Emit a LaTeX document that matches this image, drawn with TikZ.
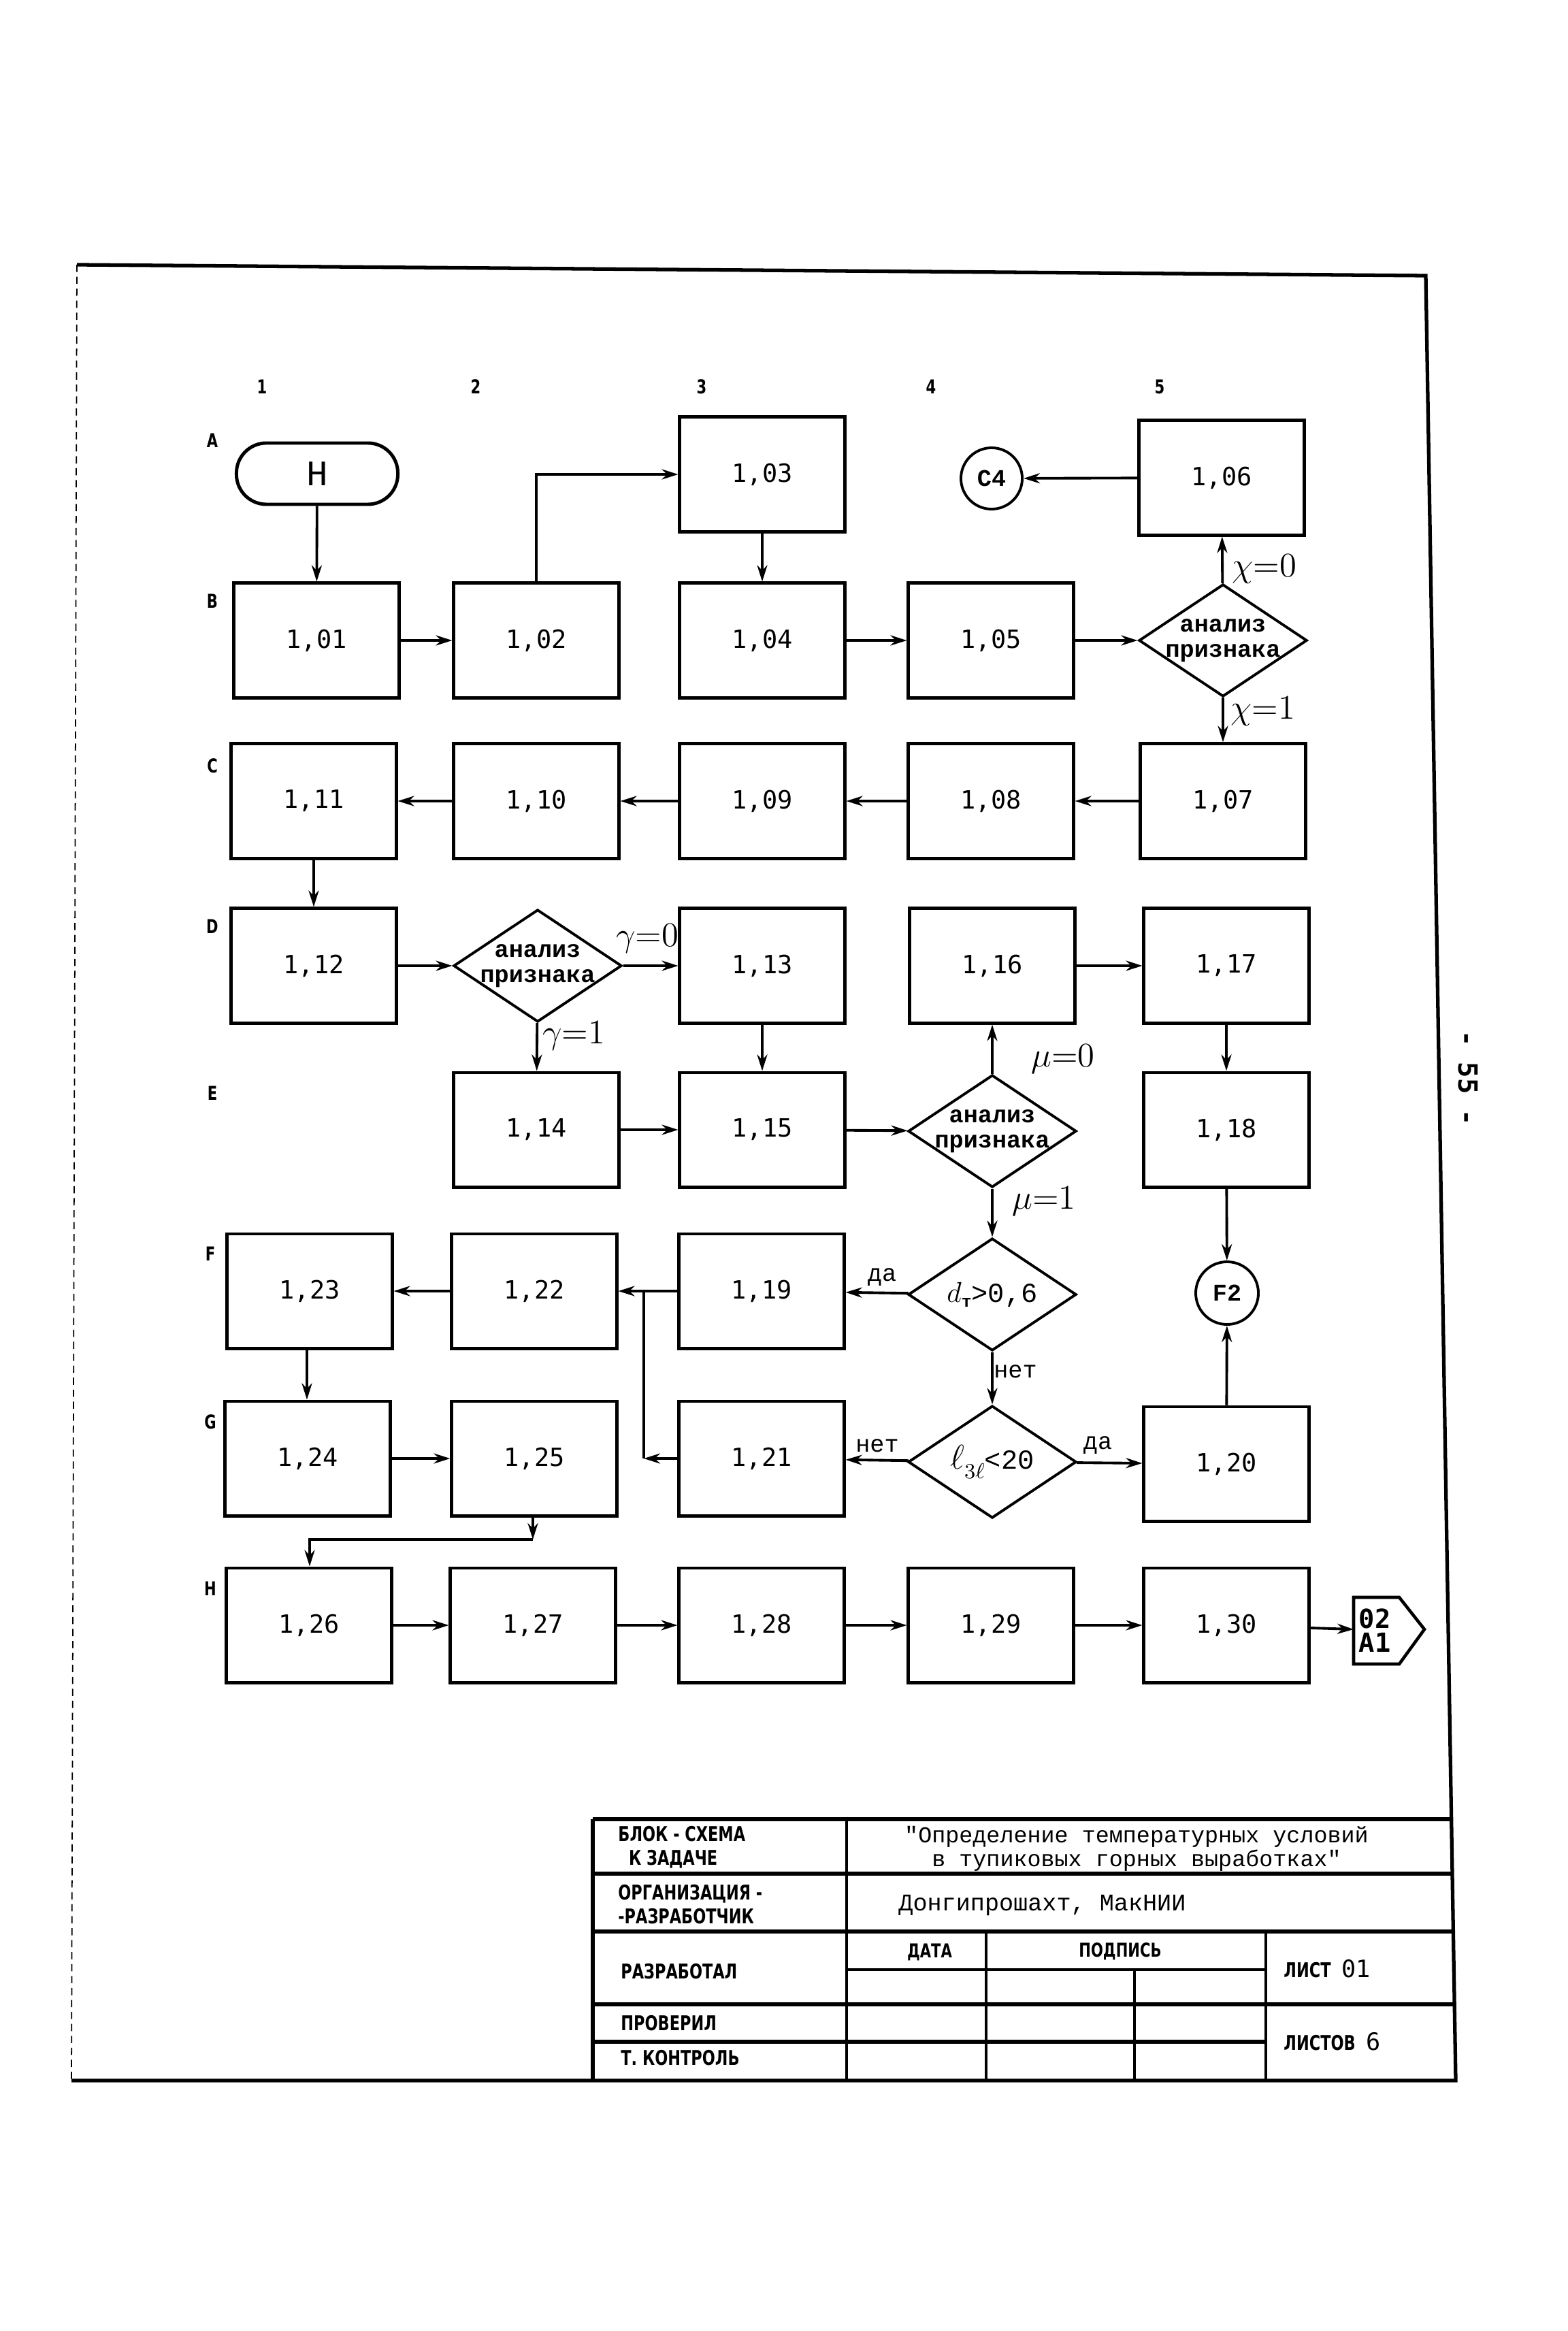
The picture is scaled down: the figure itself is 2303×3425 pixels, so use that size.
\documentclass[tikz,border=0pt]{standalone}
\usepackage{fontspec}
\usetikzlibrary{shapes.geometric,arrows.meta}
\newfontfamily\boxfont{DejaVu Sans Mono}
\newfontfamily\twf{Liberation Mono}
\newfontfamily\stcf[FakeStretch=0.75]{DejaVu Sans}
\begin{document}
\begin{tikzpicture}[x=0.01cm,y=-0.01cm,
 box/.style={draw, line width=1.4pt, minimum width=2.42cm, minimum height=1.68cm, inner sep=0pt, font=\boxfont\fontsize{10.5}{12}\selectfont},
 dec/.style={diamond, draw, line width=1.1pt, minimum width=2.47cm, minimum height=1.65cm, inner sep=-8pt, align=center, font=\twf\bfseries\fontsize{10}{10.5}\selectfont},
 conn/.style={circle, draw, line width=1.1pt, minimum size=0.9cm, inner sep=0pt, font=\twf\bfseries\fontsize{10}{12}\selectfont},
 arr/.style={draw, line width=1.1pt, -{Stealth[length=0.24cm,width=0.15cm]}},
 ln/.style={draw, line width=1.1pt},
 lab/.style={font=\stcf\bfseries\fontsize{8}{9}\selectfont},
 hw/.style={font=\fontsize{15}{17}\selectfont, inner sep=1pt},
 twl/.style={font=\twf\fontsize{10}{12}\selectfont},
 tb/.style={line width=1.5pt},
 stc/.style={font=\stcf\bfseries\fontsize{8.5}{10}\selectfont, anchor=west, align=left},
]
\useasboundingbox (0,0) rectangle (2303,3425);
\fill[white] (0,0) rectangle (2303,3425);

% frame
\draw[line width=1.5pt] (113,389) -- (2095,405) -- (2139,3057) -- (105,3057);
\draw[line width=0.5pt, densely dashed] (113,389) -- (105,3057);

% grid labels
\node[lab] (k1) at (385,568) {1};
\node[lab] (k2) at (699,568) {2};
\node[lab] (k3) at (1031,568) {3};
\node[lab] (k4) at (1368,568) {4};
\node[lab] (k5) at (1704,568) {5};
\node[lab] (rA) at (312,647) {A};
\node[lab] (rB) at (312,883) {B};
\node[lab] (rC) at (312,1125) {C};
\node[lab] (rD) at (312,1361) {D};
\node[lab] (rE) at (312,1606) {E};
\node[lab] (rF) at (309,1842) {F};
\node[lab] (rG) at (309,2089) {G};
\node[lab] (rH) at (309,2334) {H};

% row A
\node[draw, line width=1.4pt, rounded corners=0.44cm, minimum width=2.37cm, minimum height=0.9cm, inner sep=0pt, font=\twf\fontsize{15}{17}\selectfont] (nH) at (466,696) {Н};
\node[box] (n103) at (1120,697) {1,03};
\node[conn] (c4) at (1457,703) {C4};
\node[box] (n106) at (1795,702) {1,06};

% row B
\node[box] (n101) at (465,941) {1,01};
\node[box] (n102) at (788,941) {1,02};
\node[box] (n104) at (1120,941) {1,04};
\node[box] (n105) at (1456,941) {1,05};
\node[dec] (dB) at (1797,941) {анализ\\признака};

% row C
\node[box] (n111) at (461,1177) {1,11};
\node[box] (n110) at (788,1177) {1,10};
\node[box] (n109) at (1120,1177) {1,09};
\node[box] (n108) at (1456,1177) {1,08};
\node[box] (n107) at (1797,1177) {1,07};

% row D
\node[box] (n112) at (461,1419) {1,12};
\node[dec] (dD) at (790,1419) {анализ\\признака};
\node[box] (n113) at (1120,1419) {1,13};
\node[box] (n116) at (1458,1419) {1,16};
\node[box] (n117) at (1802,1419) {1,17};

% row E
\node[box] (n114) at (788,1660) {1,14};
\node[box] (n115) at (1120,1660) {1,15};
\node[dec] (dE) at (1458,1662) {анализ\\признака};
\node[box] (n118) at (1802,1660) {1,18};

% row F
\node[box] (n123) at (455,1897) {1,23};
\node[box] (n122) at (785,1897) {1,22};
\node[box] (n119) at (1119,1897) {1,19};
\node[dec] (dd) at (1458,1902) {{\fontsize{13}{15}\selectfont$d$}\raisebox{-2pt}{\twf\fontsize{7}{8}\selectfont т}{\twf\mdseries\fontsize{11.5}{13}\selectfont>0,6}};
\node[conn, minimum size=0.92cm] (f2) at (1803,1900) {F2};

% row G
\node[box] (n124) at (452,2143) {1,24};
\node[box] (n125) at (785,2143) {1,25};
\node[box] (n121) at (1119,2143) {1,21};
\node[dec] (dl) at (1458,2148) {{\fontsize{14}{15}\selectfont$\ell$}\raisebox{-4pt}{\fontsize{9}{10}\selectfont$3\ell$}{\twf\mdseries\fontsize{11.5}{13}\selectfont<20}};
\node[box] (n120) at (1802,2151) {1,20};

% row H
\node[box] (n126) at (454,2388) {1,26};
\node[box] (n127) at (783,2388) {1,27};
\node[box] (n128) at (1119,2388) {1,28};
\node[box] (n129) at (1456,2388) {1,29};
\node[box] (n130) at (1802,2388) {1,30};
\draw[line width=1.3pt] (1989,2347) -- (2056,2347) -- (2093,2394) -- (2056,2445) -- (1989,2445) -- cycle;
\coordinate (offW) at (1989,2394);
\node[font=\boxfont\bfseries\fontsize{11}{10}\selectfont, align=left, anchor=west, inner sep=0pt] (offt) at (1996,2396) {02\\A1};

% connectors
\draw[arr] (nH) -- (n101);
\draw[arr] (n101) -- (n102);
\draw[arr] (n102.north) |- (n103.west);
\draw[arr] (n103) -- (n104);
\draw[arr] (n104) -- (n105);
\draw[arr] (n105) -- (dB);
\draw[arr] (dB) -- (n106);
\draw[arr] (dB) -- (n107);
\draw[arr] (n106) -- (c4);
\draw[arr] (n107) -- (n108);
\draw[arr] (n108) -- (n109);
\draw[arr] (n109) -- (n110);
\draw[arr] (n110) -- (n111);
\draw[arr] (n111) -- (n112);
\draw[arr] (n112) -- (dD);
\draw[arr] (dD) -- (n113);
\draw[arr] (dD) -- (n114);
\draw[arr] (n113) -- (n115);
\draw[arr] (n114) -- (n115);
\draw[arr] (n115) -- (dE);
\draw[arr] (dE) -- (n116);
\draw[arr] (n116) -- (n117);
\draw[arr] (n117) -- (n118);
\draw[arr] (n118) -- (f2);
\draw[arr] (dE) -- (dd);
\draw[arr] (dd) -- (n119);
\draw[arr] (dd) -- (dl);
\draw[arr] (dl) -- (n120);
\draw[arr] (dl) -- (n121);
\draw[arr] (n120) -- (f2);
\draw[arr] (n119) -- (n122);
\coordinate (j21) at (946,2143);
\coordinate (j22) at (946,1897);
\draw[arr] (n121) -- (j21);
\draw[ln] (j21) -- (j22);
\draw[arr] (n122) -- (n123);
\draw[arr] (n123.south -| 451,0) -- (n124.north -| 451,0);
\draw[arr] (n124) -- (n125);
\coordinate (b1) at (783,2262);
\draw[arr] (n125.south -| b1) -- (b1);
\draw[arr] (b1) -| (n126.north -| 455,0);
\draw[arr] (n126) -- (n127);
\draw[arr] (n127) -- (n128);
\draw[arr] (n128) -- (n129);
\draw[arr] (n129) -- (n130);
\draw[arr] (n130) -- (offW);

% branch labels
\node[hw] (lx0) at (1858,836) {$\chi{=}0$};
\node[hw] (lx1) at (1856,1045) {$\chi{=}1$};
\node[hw] (lg0) at (951,1379) {$\gamma{=}0$};
\node[hw] (lg1) at (843,1522) {$\gamma{=}1$};
\node[hw] (lm0) at (1562,1556) {$\mu{=}0$};
\node[hw] (lm1) at (1534,1765) {$\mu{=}1$};
\node[twl] (t1) at (1296,1877) {да};
\node[twl] (t2) at (1492,2015) {нет};
\node[twl] (t3) at (1289,2124) {нет};
\node[twl] (t4) at (1613,2124) {да};

% page number
\node[rotate=-90, font=\boxfont\bfseries\fontsize{11}{12}\selectfont] (pg) at (2157,1584) {- 55 -};

% title block
\draw[tb] (871,2673) -- (2135,2673);
\draw[tb] (871,2753) -- (2136,2753);
\draw[tb] (871,2838) -- (2137,2838);
\draw[tb] (871,2945) -- (2138,2945);
\draw[tb] (871,3000) -- (1860,3000);
\draw[line width=1.2pt] (1244,2894) -- (1860,2894);
\draw[tb] (871,2673) -- (871,3057);
\draw[line width=1.1pt] (1244,2673) -- (1244,3057);
\draw[line width=1.1pt] (1449,2838) -- (1449,3057);
\draw[line width=1.1pt] (1667,2894) -- (1667,3057);
\draw[line width=1.1pt] (1860,2838) -- (1860,3057);

\node[stc] (tb1) at (896,2714) {БЛОК - СХЕМА\\\ \ К ЗАДАЧЕ};
\node[stc] (tb2) at (896,2798) {ОРГАНИЗАЦИЯ -\\-РАЗРАБОТЧИК};
\node[stc] (tb3) at (900,2897) {РАЗРАБОТАЛ};
\node[stc] (tb4) at (900,2973) {ПРОВЕРИЛ};
\node[stc] (tb5) at (900,3024) {Т. КОНТРОЛЬ};
\node[font=\twf\fontsize{9.5}{8.5}\selectfont, align=center] (tt) at (1670,2716) {"Определение температурных условий\\в тупиковых горных выработках"};
\node[font=\twf\fontsize{10}{12}\selectfont, anchor=west] (org) at (1308,2800) {Донгипрошахт, МакНИИ};
\node[font=\stcf\bfseries\fontsize{8}{9}\selectfont] (dt) at (1366,2868) {ДАТА};
\node[font=\stcf\bfseries\fontsize{8}{9}\selectfont] (ps) at (1646,2867) {ПОДПИСЬ};
\node[stc] (ls) at (1874,2893) {ЛИСТ \ {\boxfont\mdseries\fontsize{10}{12}\selectfont 01}};
\node[stc] (lv) at (1874,3000) {ЛИСТОВ \ {\boxfont\mdseries\fontsize{10}{12}\selectfont 6}};
\end{tikzpicture}
\end{document}
